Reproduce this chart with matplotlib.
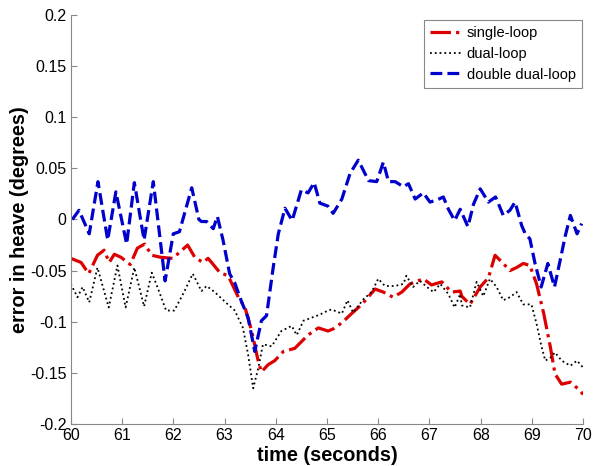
import matplotlib
matplotlib.use("Agg")
import matplotlib.pyplot as plt

plt.rcParams['font.family'] = ['Liberation Sans', 'DejaVu Sans']

# single-loop (red, dash-dot)
t_single = [60.0, 60.2, 60.35, 60.52, 60.65, 60.75, 60.85, 60.98, 61.16, 61.3, 61.44, 61.58,
            61.76, 61.99, 62.28, 62.42, 62.58, 62.68, 62.78, 62.91, 63.07, 63.27, 63.4, 63.53,
            63.66, 63.72, 63.85, 63.98, 64.15, 64.37, 64.63, 64.83, 65.02, 65.12, 65.29, 65.48,
            65.68, 65.94, 66.1, 66.29, 66.46, 66.62, 66.88, 67.04, 67.24, 67.43, 67.6, 67.63,
            67.79, 67.99, 68.15, 68.28, 68.44, 68.57, 68.7, 68.83, 68.96, 69.09, 69.23, 69.36,
            69.45, 69.58, 69.75, 69.91, 70.0]
e_single = [-0.038, -0.042, -0.053, -0.035, -0.030, -0.042, -0.034, -0.037, -0.044, -0.028, -0.024, -0.035,
            -0.037, -0.038, -0.025, -0.037, -0.042, -0.038, -0.044, -0.052, -0.055, -0.076, -0.086, -0.109,
            -0.139, -0.149, -0.142, -0.138, -0.129, -0.126, -0.113, -0.106, -0.109, -0.107, -0.101, -0.092,
            -0.083, -0.068, -0.071, -0.076, -0.071, -0.063, -0.058, -0.064, -0.061, -0.071, -0.070, -0.075,
            -0.083, -0.066, -0.057, -0.035, -0.043, -0.050, -0.047, -0.043, -0.045, -0.063, -0.092, -0.125,
            -0.151, -0.161, -0.159, -0.166, -0.171]

# dual-loop (black, dotted)
t_dual = [60.0, 60.13, 60.23, 60.36, 60.52, 60.74, 60.91, 61.07, 61.24, 61.43, 61.58, 61.69,
          61.86, 62.02, 62.21, 62.38, 62.5, 62.55, 62.65, 62.81, 63.0, 63.2, 63.36, 63.46,
          63.56, 63.66, 63.75, 63.92, 64.11, 64.31, 64.41, 64.54, 64.7, 64.86, 65.02, 65.09,
          65.29, 65.4, 65.51, 65.71, 65.87, 66.0, 66.13, 66.33, 66.49, 66.55, 66.68, 66.81,
          66.95, 67.08, 67.21, 67.37, 67.49, 67.6, 67.63, 67.79, 67.92, 68.05, 68.18, 68.31,
          68.44, 68.57, 68.7, 68.83, 68.99, 69.09, 69.19, 69.26, 69.36, 69.45, 69.58, 69.75,
          69.88, 70.0]
e_dual = [-0.063, -0.076, -0.066, -0.081, -0.047, -0.086, -0.045, -0.086, -0.047, -0.085, -0.052, -0.066,
          -0.089, -0.089, -0.071, -0.053, -0.065, -0.070, -0.065, -0.071, -0.080, -0.089, -0.106, -0.132,
          -0.165, -0.145, -0.122, -0.124, -0.109, -0.104, -0.113, -0.099, -0.096, -0.093, -0.089, -0.088,
          -0.092, -0.079, -0.091, -0.078, -0.071, -0.058, -0.065, -0.065, -0.063, -0.055, -0.066, -0.060,
          -0.066, -0.071, -0.063, -0.073, -0.086, -0.073, -0.084, -0.086, -0.061, -0.075, -0.058, -0.066,
          -0.079, -0.076, -0.071, -0.083, -0.083, -0.102, -0.125, -0.138, -0.135, -0.130, -0.138, -0.143,
          -0.138, -0.145]

# double dual-loop (blue, dashed)
t_double = [60.03, 60.16, 60.36, 60.53, 60.72, 60.88, 61.09, 61.24, 61.43, 61.61, 61.84, 62.0,
            62.12, 62.36, 62.5, 62.55, 62.65, 62.78, 62.86, 62.97, 63.1, 63.2, 63.33, 63.46,
            63.59, 63.72, 63.82, 63.95, 64.05, 64.18, 64.32, 64.5, 64.63, 64.75, 64.86, 65.02,
            65.12, 65.29, 65.45, 65.61, 65.81, 65.97, 66.1, 66.2, 66.33, 66.49, 66.59, 66.72,
            66.88, 67.01, 67.14, 67.27, 67.37, 67.49, 67.6, 67.75, 67.86, 67.99, 68.15, 68.29,
            68.44, 68.57, 68.67, 68.8, 68.87, 68.96, 69.06, 69.18, 69.31, 69.44, 69.55, 69.65,
            69.75, 69.88, 69.97]
e_double = [0.0, 0.009, -0.014, 0.037, -0.020, 0.027, -0.024, 0.036, -0.020, 0.037, -0.060, -0.014,
            -0.012, 0.031, 0.0, -0.002, -0.002, -0.009, 0.003, -0.020, -0.053, -0.062, -0.080, -0.096,
            -0.129, -0.099, -0.094, -0.047, -0.014, 0.011, -0.001, 0.029, 0.026, 0.036, 0.016, 0.013,
            0.006, 0.020, 0.045, 0.058, 0.038, 0.037, 0.056, 0.037, 0.037, 0.032, 0.035, 0.020,
            0.026, 0.017, 0.019, 0.022, 0.010, -0.001, 0.010, -0.007, 0.015, 0.030, 0.017, 0.022,
            0.004, 0.009, 0.017, -0.006, -0.014, -0.019, -0.043, -0.066, -0.043, -0.066, -0.040, -0.016,
            0.004, -0.014, -0.004]

fig = plt.figure(figsize=(6.0, 4.66), dpi=100)
ax = fig.add_axes([0.118, 0.090, 0.854, 0.878])

ax.plot(t_single, e_single, color='#dd0000', linestyle='-.', linewidth=2.3, label='single-loop')
ax.plot(t_dual, e_dual, color='black', linestyle=':', linewidth=1.3, label='dual-loop')
ax.plot(t_double, e_double, color='#0000cc', linestyle='--', linewidth=2.3, label='double dual-loop')

ax.set_xlim(60, 70)
ax.set_ylim(-0.2, 0.2)
ax.set_xticks(range(60, 71))
ax.set_yticks([-0.2, -0.15, -0.1, -0.05, 0, 0.05, 0.1, 0.15, 0.2])
ax.set_yticklabels(['-0.2', '-0.15', '-0.1', '-0.05', '0', '0.05', '0.1', '0.15', '0.2'])
ax.tick_params(direction='in', length=4, labelsize=11.5, color='#888888', pad=3)

for side in ['top', 'right']:
    ax.spines[side].set_visible(False)
for side in ['left', 'bottom']:
    ax.spines[side].set_color('#888888')

ax.set_xlabel('time (seconds)', fontsize=14.3, fontweight='bold', labelpad=2)
ax.set_ylabel('error in heave (degrees)', fontsize=14.3, fontweight='bold')
ax.yaxis.set_label_coords(-0.082, 0.5)

leg = ax.legend(loc='upper right', fontsize=10.5, fancybox=False, framealpha=1,
                edgecolor='#888888', handlelength=2.2, borderpad=0.45, labelspacing=0.45,
                handletextpad=0.3, borderaxespad=0, bbox_to_anchor=(0.998, 0.988))
leg.get_frame().set_linewidth(0.8)

fig.savefig('out.png', dpi=100)
